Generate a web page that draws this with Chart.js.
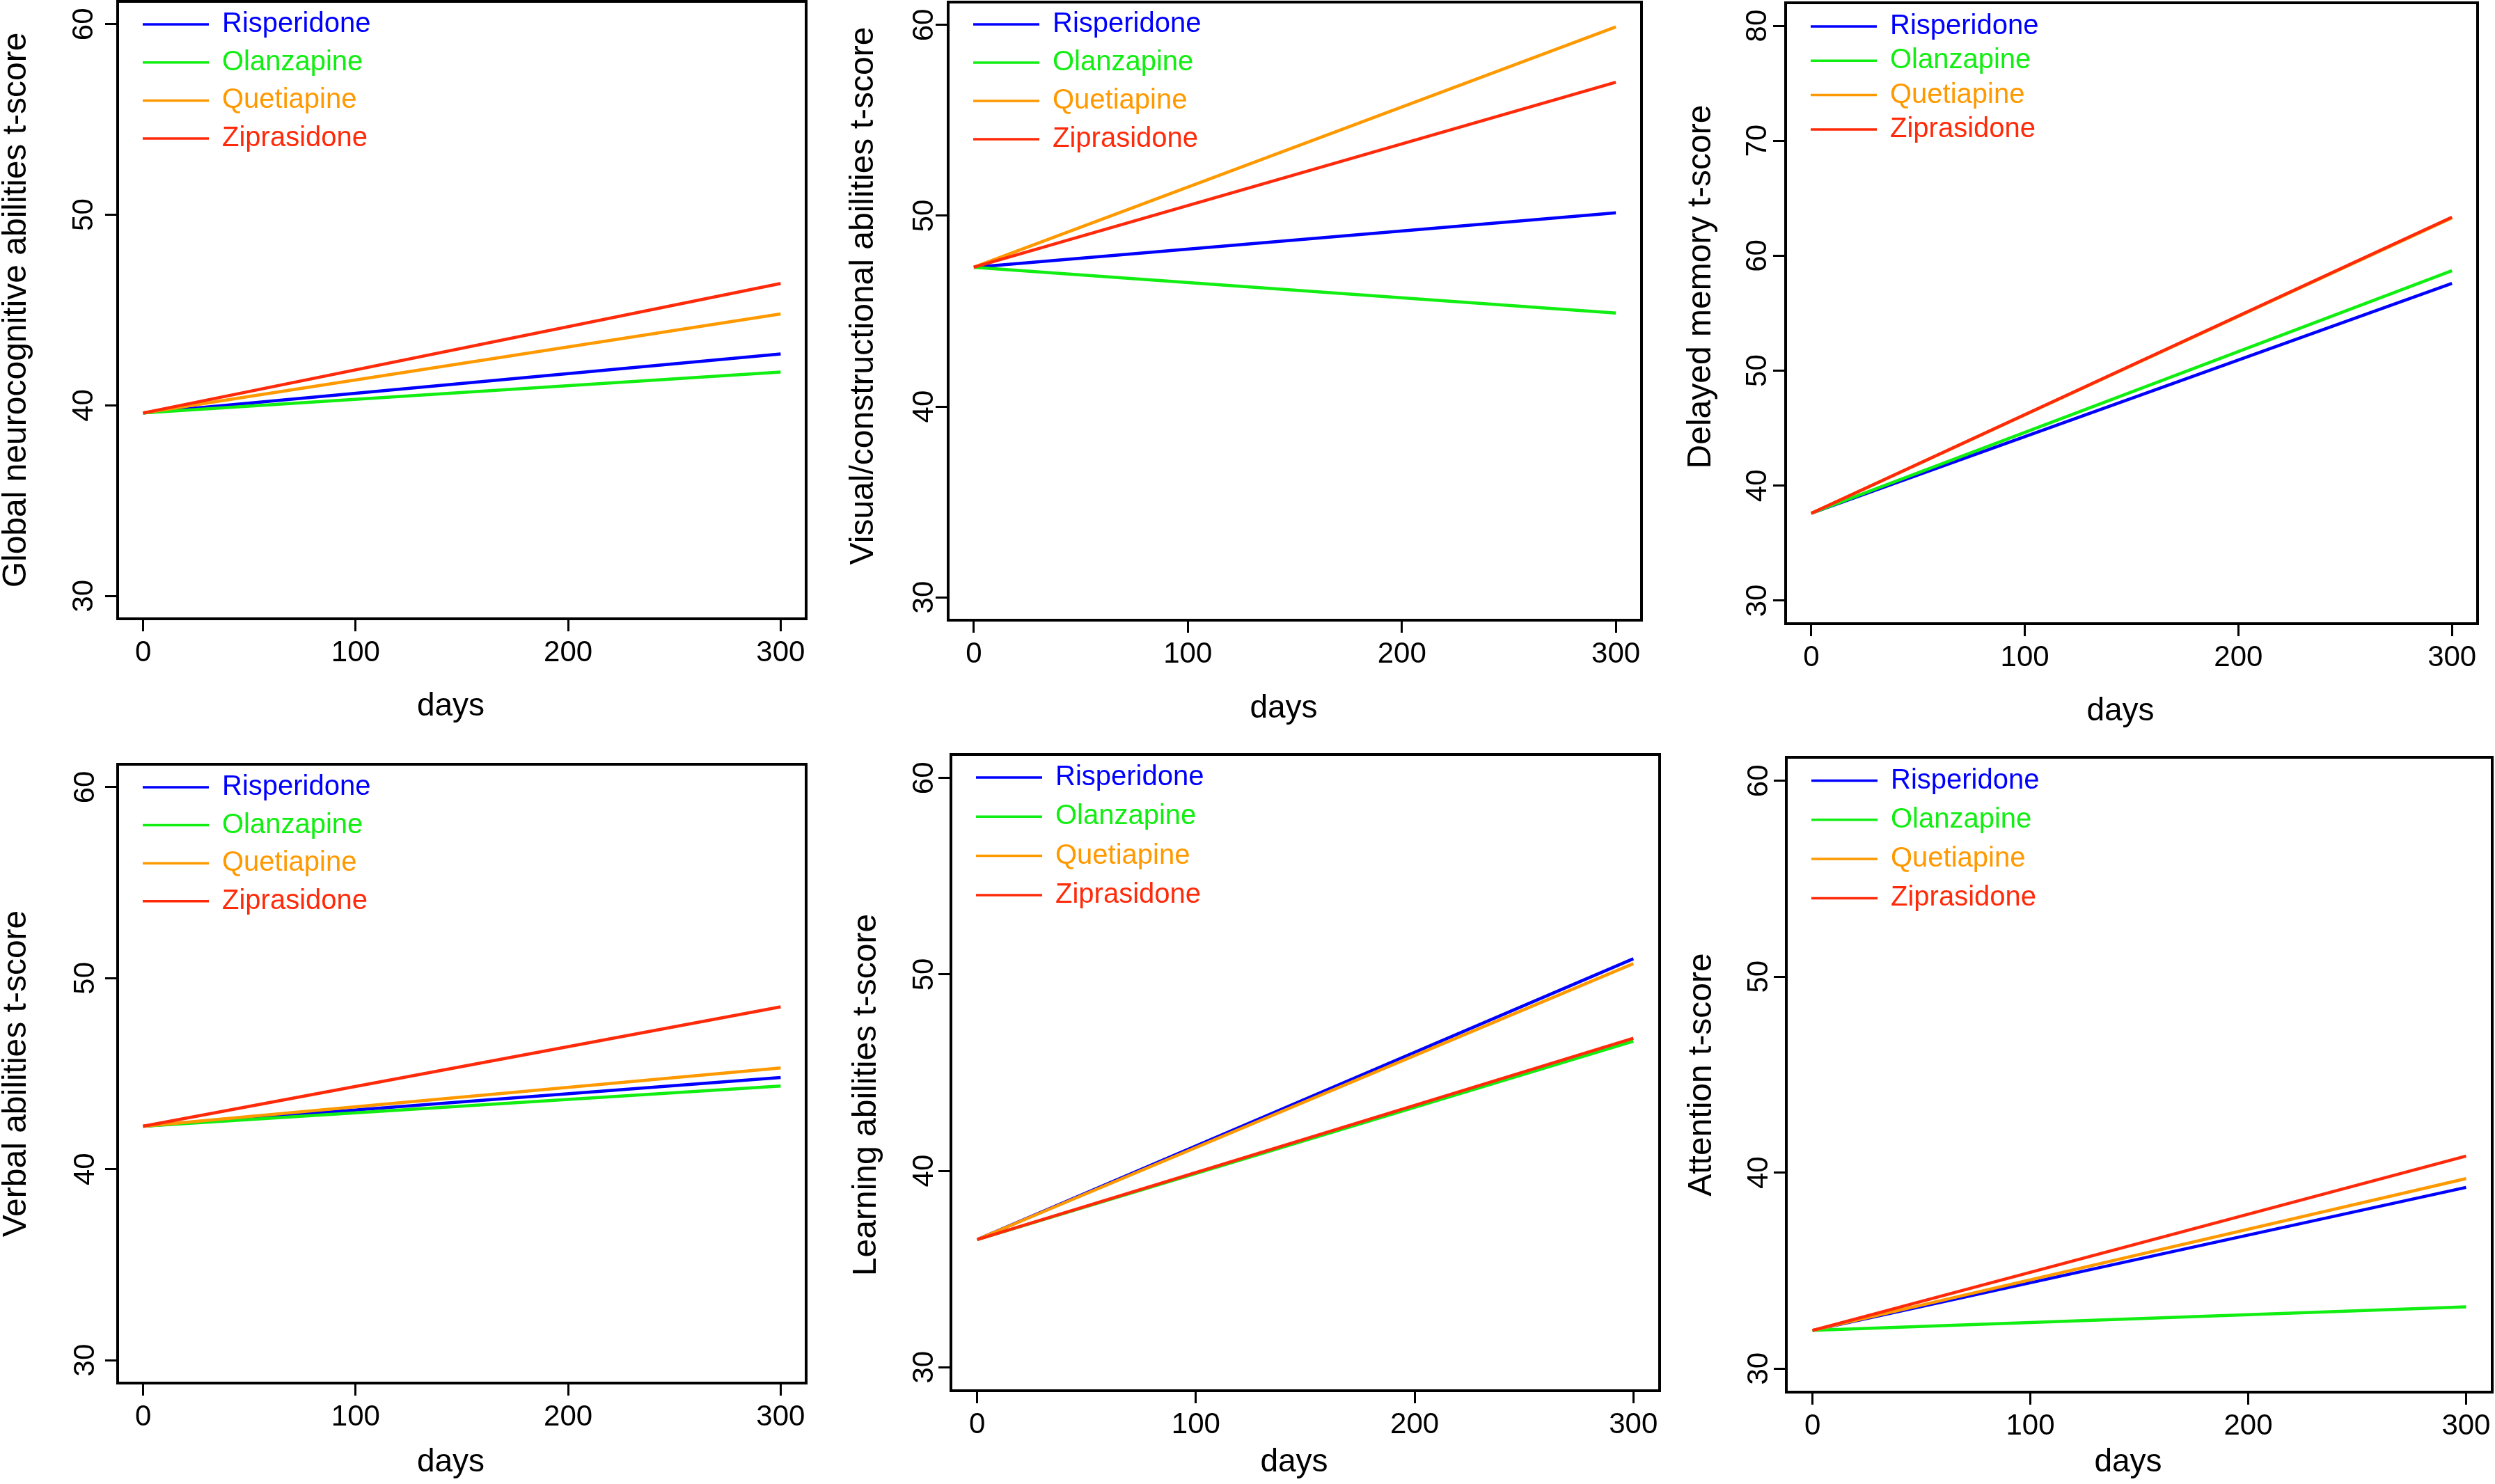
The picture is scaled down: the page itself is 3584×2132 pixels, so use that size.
<!DOCTYPE html>
<html>
<head>
<meta charset="utf-8">
<script src="https://cdn.jsdelivr.net/npm/chart.js@4/dist/chart.umd.min.js"></script>
<style>
  html, body { margin: 0; padding: 0; background: #fff; }
  #page { position: relative; width: 3584px; height: 2132px; overflow: hidden; background: #fff; }
  #page canvas { position: absolute; }
</style>
</head>
<body>
<div id="page"></div>
<script>
var days = [0, 300];
var dayTicks = [0, 100, 200, 300];
var drugs = ['Risperidone', 'Olanzapine', 'Quetiapine', 'Ziprasidone'];
var drugColors = ['#0000ff', '#11ee11', '#ff9900', '#ff2a0a'];

var yTitles = [
  'Global neurocognitive abilities t-score',
  'Visual/constructional abilities t-score',
  'Delayed memory t-score',
  'Verbal abilities t-score',
  'Learning abilities t-score',
  'Attention t-score'
];
var yTicksStd = [30, 40, 50, 60];
var yTicksMemory = [30, 40, 50, 60, 70, 80];

// t-score at day 0 and day 300 for each drug (Risperidone, Olanzapine, Quetiapine, Ziprasidone)
var globalScores = [[39.6, 42.7], [39.6, 41.75], [39.6, 44.8], [39.6, 46.4]];
var visualScores = [[47.3, 50.15], [47.3, 44.9], [47.3, 59.9], [47.3, 57.0]];
var memoryScores = [[37.6, 57.6], [37.6, 58.7], [37.6, 63.3], [37.6, 63.35]];
var verbalScores = [[42.25, 44.8], [42.25, 44.35], [42.25, 45.3], [42.25, 48.5]];
var learningScores = [[36.5, 50.8], [36.5, 46.6], [36.5, 50.55], [36.5, 46.75]];
var attentionScores = [[31.95, 39.25], [31.95, 33.15], [31.95, 39.7], [31.95, 40.85]];

var FONT = '"Liberation Sans", Arial, sans-serif';
Chart.defaults.font.family = FONT;
Chart.defaults.color = '#000';

// where each plot box sits on the page, and text offsets around it
var panels = [
  {title: yTitles[0], ticks: yTicksStd, scores: globalScores, box: [169, 2, 1158, 889], tickOff: 47, titleOff: 145, titleShift: 0, daysOff: 126, legFirst: 33, legGap: 54.7},
  {title: yTitles[1], ticks: yTicksStd, scores: visualScores, box: [1362, 3, 2358, 891], tickOff: 33, titleOff: 121, titleShift: -22, daysOff: 127, legFirst: 32, legGap: 55},
  {title: yTitles[2], ticks: yTicksMemory, scores: memoryScores, box: [2565, 4, 3559, 896], tickOff: 39, titleOff: 121, titleShift: -38, daysOff: 126, legFirst: 34, legGap: 49.3},
  {title: yTitles[3], ticks: yTicksStd, scores: verbalScores, box: [169, 1098, 1158, 1987], tickOff: 45, titleOff: 145, titleShift: 0, daysOff: 114, legFirst: 33, legGap: 54.6},
  {title: yTitles[4], ticks: yTicksStd, scores: learningScores, box: [1366, 1084, 2384, 1998], tickOff: 37.5, titleOff: 121, titleShift: 32, daysOff: 103, legFirst: 33, legGap: 56.3},
  {title: yTitles[5], ticks: yTicksStd, scores: attentionScores, box: [2566, 1088, 3580, 2000], tickOff: 38, titleOff: 121, titleShift: 0, daysOff: 101, legFirst: 33.5, legGap: 56.3}
];

// R style frame, axis titles and the legend inside the plot box
var boxAndLegend = {
  id: 'boxAndLegend',
  afterDraw: function(chart, args, opts) {
    var a = chart.chartArea;
    var ctx = chart.ctx;
    ctx.save();
    ctx.strokeStyle = '#000';
    ctx.lineWidth = 4;
    ctx.strokeRect(a.left, a.top, a.right - a.left, a.bottom - a.top);

    ctx.fillStyle = '#000';
    ctx.textAlign = 'center';
    ctx.textBaseline = 'middle';
    ctx.font = '46px ' + FONT;
    ctx.fillText('days', (a.left + a.right) / 2 - 16, a.bottom + opts.daysOff);
    ctx.save();
    ctx.translate(a.left - opts.titleOff, (a.top + a.bottom) / 2 + opts.titleShift);
    ctx.rotate(-Math.PI / 2);
    ctx.font = '48px ' + FONT;
    ctx.fillText(opts.title, 0, 0);
    ctx.restore();

    ctx.font = '40px ' + FONT;
    ctx.textAlign = 'left';
    chart.data.datasets.forEach(function(ds, i) {
      var y = a.top + opts.first + i * opts.gap;
      ctx.strokeStyle = ds.borderColor;
      ctx.lineWidth = 3.5;
      ctx.beginPath();
      ctx.moveTo(a.left + 36, y);
      ctx.lineTo(a.left + 131, y);
      ctx.stroke();
      ctx.fillStyle = ds.borderColor;
      ctx.fillText(ds.label, a.left + 150, y);
    });
    ctx.restore();
  }
};

function makeChart(p) {
  var L = p.box[0], T = p.box[1], R = p.box[2], B = p.box[3];
  var YW = p.titleOff + 30;
  var XH = p.daysOff + 30;
  var PT = 8, PR = 12;
  var canvas = document.createElement('canvas');
  canvas.width = YW + (R - L) + PR;
  canvas.height = PT + (B - T) + XH;
  canvas.style.left = (L - YW) + 'px';
  canvas.style.top = (T - PT) + 'px';
  document.getElementById('page').appendChild(canvas);

  var lo = p.ticks[0], hi = p.ticks[p.ticks.length - 1];
  var tickGrid = { drawOnChartArea: false, drawTicks: true, tickLength: 18, tickWidth: 3, tickColor: '#000' };

  new Chart(canvas, {
    type: 'line',
    data: {
      datasets: drugs.map(function(name, i) {
        return {
          label: name,
          data: days.map(function(d, k) { return {x: d, y: p.scores[i][k]}; }),
          borderColor: drugColors[i],
          backgroundColor: drugColors[i],
          borderWidth: 4.5,
          pointRadius: 0,
          fill: false,
          tension: 0,
          order: drugs.length - i
        };
      })
    },
    options: {
      responsive: false,
      animation: false,
      devicePixelRatio: 1,
      layout: { padding: { top: PT, right: PR, bottom: 0, left: 0 } },
      plugins: {
        legend: { display: false },
        tooltip: { enabled: false },
        boxAndLegend: { first: p.legFirst, gap: p.legGap, title: p.title, titleOff: p.titleOff, titleShift: p.titleShift, daysOff: p.daysOff }
      },
      scales: {
        x: {
          type: 'linear',
          min: 0 - 0.04 * 300,
          max: 300 + 0.04 * 300,
          afterBuildTicks: function(s) { s.ticks = dayTicks.map(function(v) { return {value: v}; }); },
          afterFit: function(s) { s.height = XH; s.paddingLeft = 0; s.paddingRight = 0; },
          grid: tickGrid,
          border: { display: false },
          ticks: { color: '#000', font: { size: 42 }, padding: 6, maxRotation: 0, autoSkip: false }
        },
        y: {
          type: 'linear',
          min: lo - 0.04 * (hi - lo),
          max: hi + 0.04 * (hi - lo),
          afterBuildTicks: function(s) { s.ticks = p.ticks.map(function(v) { return {value: v}; }); },
          afterFit: function(s) { s.width = YW; s.paddingTop = 0; s.paddingBottom = 0; },
          grid: tickGrid,
          border: { display: false },
          ticks: { color: '#000', font: { size: 42 }, padding: p.tickOff - 18 - 23, minRotation: 90, maxRotation: 90, crossAlign: 'center', autoSkip: false }
        }
      }
    },
    plugins: [boxAndLegend]
  });
}

panels.forEach(makeChart);
</script>
</body>
</html>
